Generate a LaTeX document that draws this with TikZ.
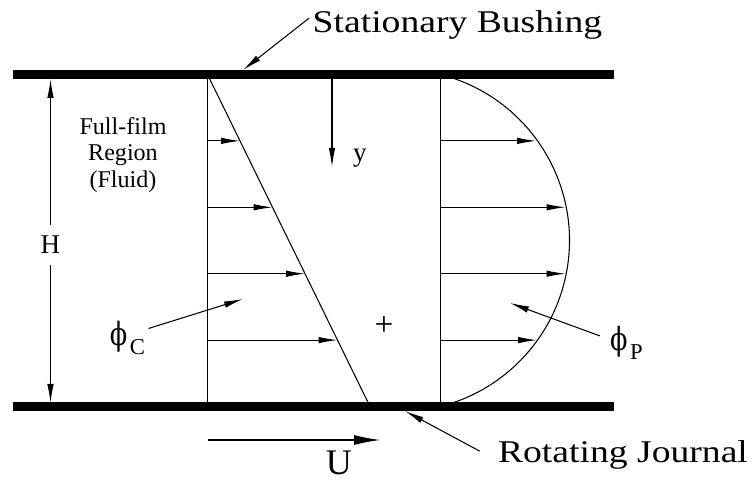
\documentclass[tikz,border=0pt]{standalone}
\usepackage{fontspec}
\setmainfont{Liberation Serif}
\newfontfamily\widefont[FakeStretch=1.19]{Liberation Serif}
\newfontfamily\phifont[FakeStretch=0.8]{DejaVu Serif}
\usetikzlibrary{arrows.meta,calc,positioning}

\newcommand{\flowphi}[1]{{\fontsize{18.2}{20}\phifont ϕ}\kern1.5pt\raisebox{-4.6pt}{\fontsize{12.9}{14}\selectfont #1}}

\begin{document}
\begin{tikzpicture}[
  bar/.style={line width=0.17cm},
  prof/.style={line width=0.6pt},
  arr/.style={-{Latex[length=0.38cm,width=0.13cm]}, line width=0.6pt},
  bigarr/.style={-{Latex[length=0.52cm,width=0.2cm]}, line width=0.6pt},
  lbl/.style={font=\fontsize{15.4}{17}\selectfont, inner sep=0pt},
  big/.style={font=\widefont\fontsize{18}{20}\selectfont, inner sep=0pt},
  sym/.style={inner sep=0pt}
]
\useasboundingbox (0,0) rectangle (15.06,9.64);

% bushing and journal
\draw[bar] (0.26,8.15) -- (12.28,8.15);
\draw[bar] (0.26,1.51) -- (12.28,1.51);

% film thickness
\node[lbl, minimum height=0.8cm] (H) at (1.01,4.74) {H};
\coordinate (Htop) at (1.01,8.06);
\coordinate (Hbot) at (1.01,1.58);
\draw[arr] (H) -- (Htop);
\draw[arr] (H) -- (Hbot);

\node[lbl, align=center, font=\fontsize{13.7}{15.1}\selectfont]
     (fluid) at (2.46,6.54) {Full-film\\Region\\(Fluid)};

% Couette profile
\coordinate (ctop)  at (4.15,8.15);
\coordinate (cvbot) at (4.15,1.51);
\coordinate (cbot)  at (7.40,1.51);
\draw[prof] (ctop) -- (cvbot);
\draw[prof] (ctop) -- (cbot);
\foreach \t in {0.2,0.4,0.6,0.8}
  \draw[arr] ($(ctop)!\t!(cvbot)$) -- ($(ctop)!\t!(cbot)$);

% Poiseuille profile
\coordinate (ptop) at (8.81,8.15);
\coordinate (pbot) at (8.81,1.51);
\draw[prof] (ptop) -- (pbot);
\draw[prof] (ptop) arc[start angle=75.7, end angle=-75.7, radius=3.426];
\foreach \t/\len in {0.2/1.91, 0.4/2.50, 0.6/2.50, 0.8/1.93}
  \draw[arr] ($(ptop)!\t!(pbot)$) -- ++(\len,0);

% y direction
\coordinate (ya) at (6.64,8.06);
\coordinate (yb) at (6.64,6.30);
\draw[arr] (ya) -- (yb);
\node[lbl, anchor=base] (ylbl) at (7.20,6.40) {y};

\node[inner sep=0pt, font=\fontsize{19}{21}\selectfont] (plus) at (7.68,3.12) {+};

% labels
\node[big, anchor=base] (sb) at (9.15,8.98) {Stationary Bushing};
\coordinate (sbtip) at (4.86,8.24);
\draw[arr] ([xshift=-0.06cm,yshift=0.15cm]sb.west) -- (sbtip);

\node[big, anchor=base] (rj) at (12.46,0.386) {Rotating Journal};
\coordinate (rjtip) at (8.10,1.42);
\draw[arr] ([xshift=-0.36cm,yshift=0.08cm]rj.west) -- (rjtip);

\node[sym, anchor=base] (pc) at (2.55,2.72) {\flowphi{C}};
\coordinate (pctip) at (4.86,3.66);
\draw[arr] ([xshift=0.06cm,yshift=0.19cm]pc.east) -- (pctip);

\node[sym, anchor=base] (pp) at (12.53,2.62) {\flowphi{P}};
\coordinate (pptip) at (10.20,3.58);
\draw[arr] ([xshift=-0.2cm,yshift=0.14cm]pp.west) -- (pptip);

% journal speed
\coordinate (ua) at (4.16,0.84);
\coordinate (ub) at (7.60,0.84);
\draw[bigarr] (ua) -- (ub);
\node[inner sep=0pt, anchor=base, font=\fontsize{20.5}{23}\selectfont] (U) at (6.78,0.14) {U};
\end{tikzpicture}
\end{document}
